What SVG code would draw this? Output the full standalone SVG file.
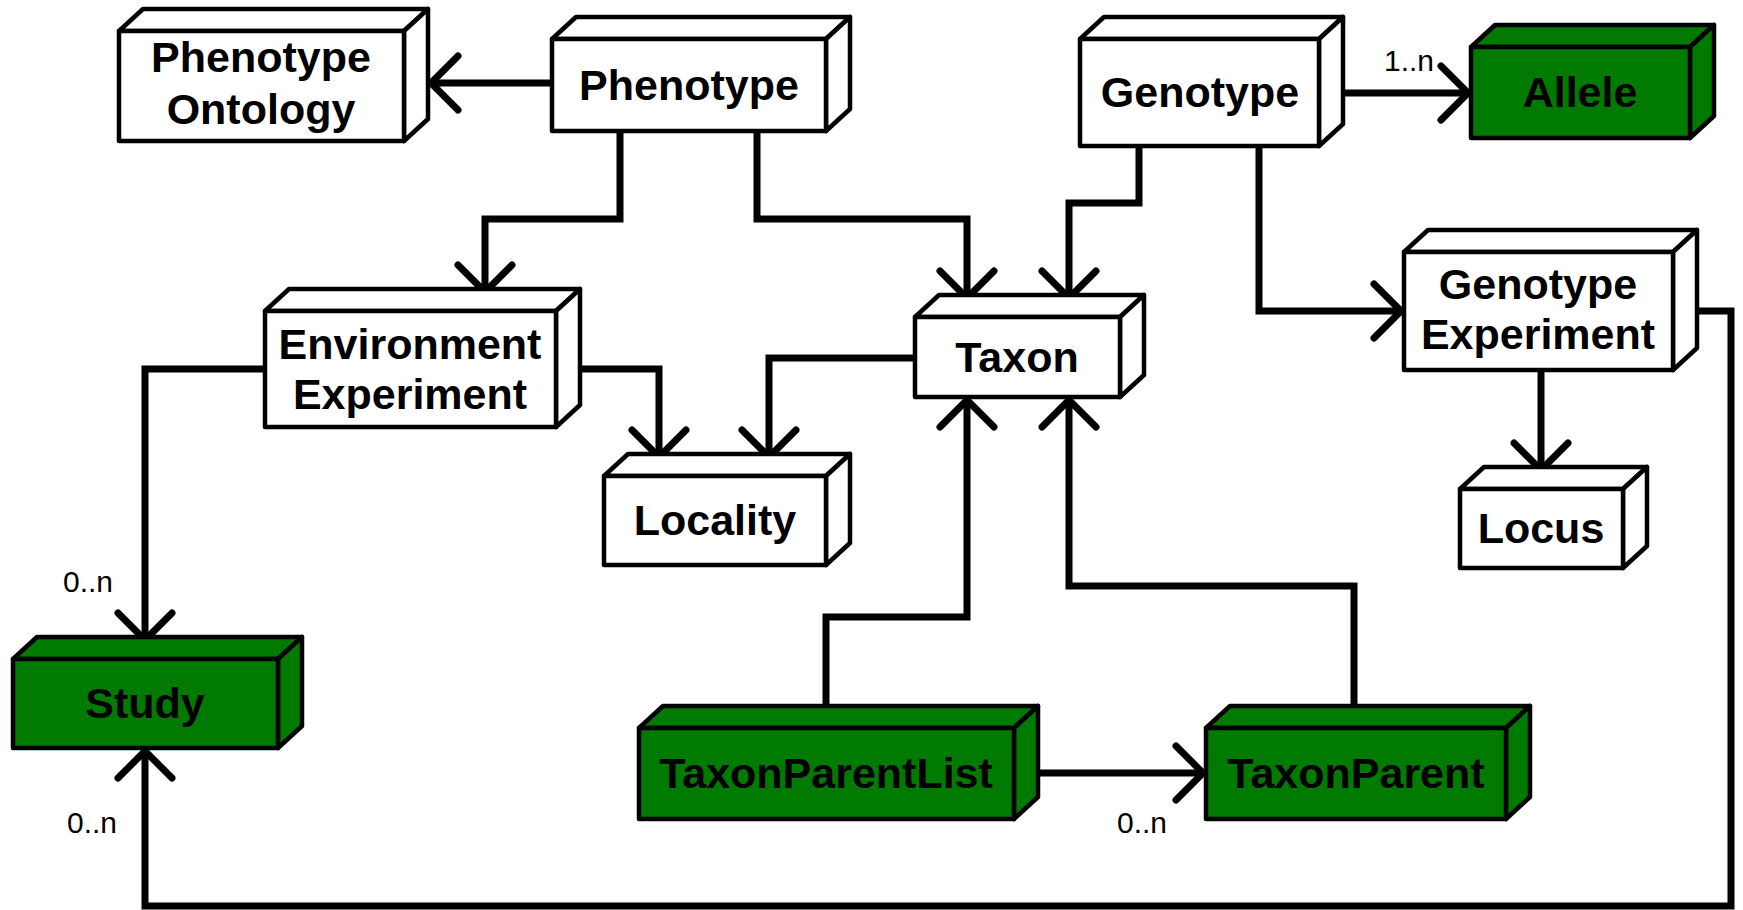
<svg xmlns="http://www.w3.org/2000/svg" width="1743" height="910" viewBox="0 0 1743 910">
<style>
.box path{stroke:#000;stroke-width:4.5;stroke-linejoin:round}
.w path{fill:#fff}
.g path{fill:#007a00}
.t{font-family:"Liberation Sans",Arial,sans-serif;font-weight:bold;font-size:43px;text-anchor:middle;fill:#000}
.lbl{font-family:"Liberation Sans",Arial,sans-serif;font-size:30px;fill:#000}
.c path{fill:none;stroke:#000;stroke-width:7;stroke-linejoin:miter;marker-end:url(#arr)}
</style>
<defs>
<marker id="arr" markerUnits="userSpaceOnUse" markerWidth="60" markerHeight="60" refX="0" refY="0" viewBox="-30 -30 60 60" orient="auto" overflow="visible">
<path d="M-27,-27 L0,0 L-27,27" fill="none" stroke="#000" stroke-width="7" stroke-linecap="round" stroke-linejoin="round"/>
</marker>
</defs>
<rect width="1743" height="910" fill="#fff"/>
<g id="connectors" class="c">
<path d="M552,83 H431"/>
<path d="M620,131 V219 H485 V292"/>
<path d="M757,131 V219 H967 V298"/>
<path d="M1139,146 V203 H1069 V298"/>
<path d="M1259,146 V311 H1401"/>
<path d="M1343,93 H1468"/>
<path d="M580,369 H659 V457"/>
<path d="M265,369 H145 V640"/>
<path d="M915,358 H769 V457"/>
<path d="M1541,370 V470"/>
<path d="M1697,311 H1731 V906 H145 V751"/>
<path d="M826,706 V617 H967 V400"/>
<path d="M1354,706 V586 H1069 V400"/>
<path d="M1038,773 H1203"/>
</g>
<g id="labels">
<text class="lbl" x="1384" y="71">1..n</text>
<text class="lbl" x="63" y="592">0..n</text>
<text class="lbl" x="67" y="833">0..n</text>
<text class="lbl" x="1117" y="833">0..n</text>
</g>
<g id="phenotype-ontology" class="box w">
<path d="M119,31 L143,9 H428 L404,31 Z"/>
<path d="M404,31 L428,9 V119 L404,141 Z"/>
<path d="M119,31 H404 V141 H119 Z"/>
<text class="t" x="261" y="72">Phenotype</text>
<text class="t" x="261" y="124">Ontology</text>
</g>
<g id="phenotype" class="box w">
<path d="M552,39 L576,17 H850 L826,39 Z"/>
<path d="M826,39 L850,17 V109 L826,131 Z"/>
<path d="M552,39 H826 V131 H552 Z"/>
<text class="t" x="689" y="100">Phenotype</text>
</g>
<g id="genotype" class="box w">
<path d="M1080,39 L1104,17 H1343 L1319,39 Z"/>
<path d="M1319,39 L1343,17 V124 L1319,146 Z"/>
<path d="M1080,39 H1319 V146 H1080 Z"/>
<text class="t" x="1200" y="107">Genotype</text>
</g>
<g id="allele" class="box g">
<path d="M1471,47 L1495,25 H1714 L1690,47 Z"/>
<path d="M1690,47 L1714,25 V116 L1690,138 Z"/>
<path d="M1471,47 H1690 V138 H1471 Z"/>
<text class="t" x="1580" y="107">Allele</text>
</g>
<g id="environment-experiment" class="box w">
<path d="M265,311 L289,289 H580 L556,311 Z"/>
<path d="M556,311 L580,289 V405 L556,427 Z"/>
<path d="M265,311 H556 V427 H265 Z"/>
<text class="t" x="410" y="359">Environment</text>
<text class="t" x="410" y="409">Experiment</text>
</g>
<g id="taxon" class="box w">
<path d="M915,317 L939,295 H1144 L1120,317 Z"/>
<path d="M1120,317 L1144,295 V375 L1120,397 Z"/>
<path d="M915,317 H1120 V397 H915 Z"/>
<text class="t" x="1017" y="372">Taxon</text>
</g>
<g id="genotype-experiment" class="box w">
<path d="M1404,252 L1428,230 H1697 L1673,252 Z"/>
<path d="M1673,252 L1697,230 V348 L1673,370 Z"/>
<path d="M1404,252 H1673 V370 H1404 Z"/>
<text class="t" x="1538" y="299">Genotype</text>
<text class="t" x="1538" y="349">Experiment</text>
</g>
<g id="locality" class="box w">
<path d="M604,476 L628,454 H850 L826,476 Z"/>
<path d="M826,476 L850,454 V543 L826,565 Z"/>
<path d="M604,476 H826 V565 H604 Z"/>
<text class="t" x="715" y="535">Locality</text>
</g>
<g id="locus" class="box w">
<path d="M1460,489 L1484,467 H1647 L1623,489 Z"/>
<path d="M1623,489 L1647,467 V546 L1623,568 Z"/>
<path d="M1460,489 H1623 V568 H1460 Z"/>
<text class="t" x="1541" y="543">Locus</text>
</g>
<g id="study" class="box g">
<path d="M13,659 L37,637 H302 L278,659 Z"/>
<path d="M278,659 L302,637 V726 L278,748 Z"/>
<path d="M13,659 H278 V748 H13 Z"/>
<text class="t" x="145" y="718">Study</text>
</g>
<g id="taxon-parent-list" class="box g">
<path d="M639,728 L663,706 H1038 L1014,728 Z"/>
<path d="M1014,728 L1038,706 V797 L1014,819 Z"/>
<path d="M639,728 H1014 V819 H639 Z"/>
<text class="t" x="826" y="788">TaxonParentList</text>
</g>
<g id="taxon-parent" class="box g">
<path d="M1206,728 L1230,706 H1530 L1506,728 Z"/>
<path d="M1506,728 L1530,706 V797 L1506,819 Z"/>
<path d="M1206,728 H1506 V819 H1206 Z"/>
<text class="t" x="1356" y="788">TaxonParent</text>
</g>
</svg>
